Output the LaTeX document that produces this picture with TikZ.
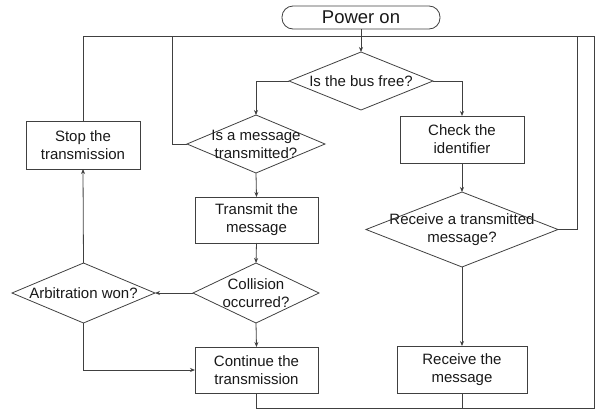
\documentclass[tikz,border=0pt]{standalone}
\usepackage{fontspec}
\setmainfont{Liberation Sans}
\usetikzlibrary{shapes.geometric,arrows.meta}
\begin{document}
\begin{tikzpicture}[x=1pt,y=-1pt,
  every node/.style={font=\fontsize{15}{18}\selectfont, text=black!90},
  ln/.style={line width=0.8pt, draw=black!75},
  arr/.style={ln, -{Stealth[length=5pt,width=4pt]}},
  box/.style={ln, draw, rectangle, inner sep=0pt, outer sep=0pt, align=center},
  dia/.style={ln, draw, diamond, inner sep=0pt, outer sep=0pt},
  lbl/.style={align=center, inner sep=0pt}]
\useasboundingbox (0,0) rectangle (598,410);
% nodes
\node[ln, draw, rectangle, rounded corners=11pt, minimum width=158pt, minimum height=23pt, inner sep=0pt, font=\fontsize{18.5}{20}\selectfont] (power) at (361,17.5) {Power on};
\node[dia, aspect=2.483, minimum width=144pt, minimum height=58pt] (bus) at (361,81) {};
\node[lbl] (busT) at (bus.center) {Is the bus free?};
\node[dia, aspect=2.379, minimum width=138pt, minimum height=58pt] (msgt) at (256,144) {};
\node[lbl] (msgtT) at (msgt.center) {Is a message\\transmitted?};
\node[box, minimum width=124pt, minimum height=47pt] (check) at (462,139.5) {Check the\\identifier};
\node[dia, aspect=2.56, minimum width=192pt, minimum height=75pt] (recv) at (462,229.5) {};
\node[lbl] (recvT) at (recv.center) {Receive a transmitted\\message?};
\node[box, minimum width=130pt, minimum height=47pt] (recvmsg) at (462,369.5) {Receive the\\message};
\node[box, minimum width=114pt, minimum height=48pt] (stop) at (83,145) {Stop the\\transmission};
\node[box, minimum width=123pt, minimum height=46pt] (trans) at (256.5,220) {Transmit the\\message};
\node[dia, aspect=2.1, minimum width=126pt, minimum height=60pt] (coll) at (256,293) {};
\node[lbl] (collT) at (coll.center) {Collision\\occurred?};
\node[dia, aspect=2.383, minimum width=143pt, minimum height=60pt] (arb) at (83.5,293) {};
\node[lbl] (arbT) at (arb.center) {Arbitration won?};
\node[box, minimum width=123pt, minimum height=46pt] (cont) at (256.5,370) {Continue the\\transmission};
% loop coordinates
\coordinate (tl) at (83,36);
\coordinate (tm) at (172,36);
\coordinate (tr) at (594,36);
\coordinate (br) at (594,408);
\coordinate (bl) at (256.5,408);
\coordinate (bm) at (462,408);
\coordinate (rr) at (577,36);
% connectors
\draw[arr] (power.south) -- (bus.north);
\draw[arr] (bus.west) -| (msgt.north);
\draw[arr] (bus.east) -| (check.north);
\draw[arr] (check.south) -- (recv.north);
\draw[arr] (recv.south) -- (recvmsg.north);
\draw[arr] (msgt.south) -- (trans.north);
\draw[arr] (trans.south) -- (coll.north);
\draw[arr] (coll.west) -- (arb.east);
\draw[arr] (arb.north) -- (stop.south);
\draw[arr] (arb.south) |- (cont.west);
\draw[arr] (coll.south) -- (cont.north);
\draw[ln] (stop.north) -- (tl) -- (tr) -- (br) -- (bl) -- (cont.south);
\draw[ln] (recvmsg.south) -- (bm);
\draw[ln] (msgt.west) -- (msgt.west -| tm) -- (tm);
\draw[ln] (recv.east) -- (recv.east -| rr) -- (rr);
\end{tikzpicture}
\end{document}
